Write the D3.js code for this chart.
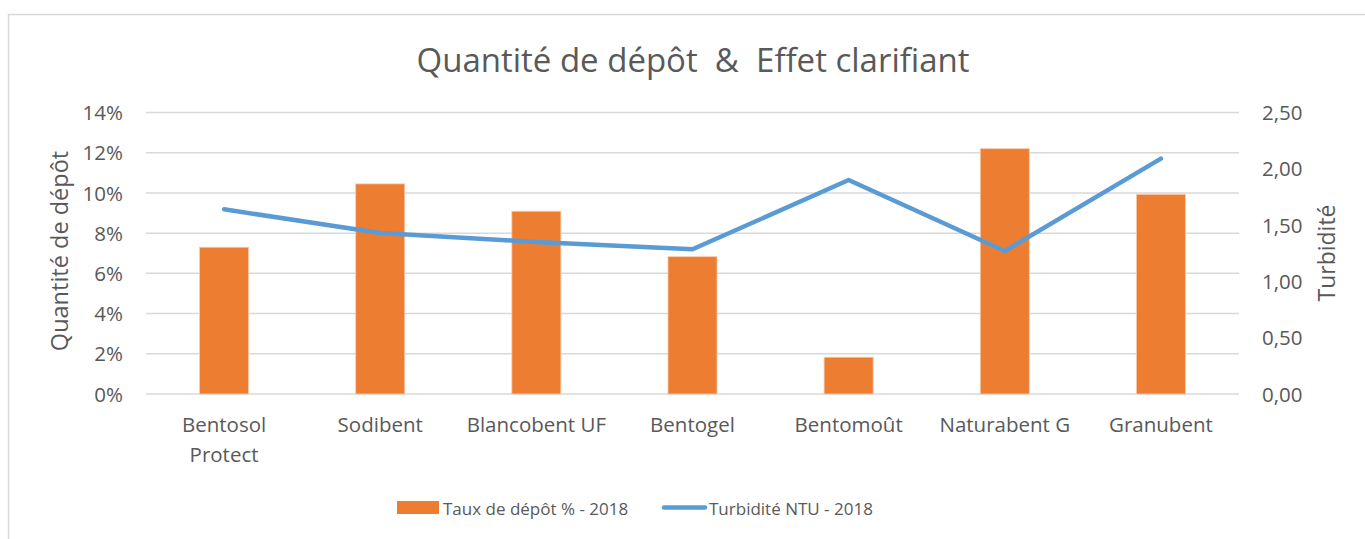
<!DOCTYPE html>
<html>
<head>
<meta charset="utf-8">
<script src="https://cdn.jsdelivr.net/npm/d3@7"></script>
<style>
  body { margin: 0; background: #fff; }
  svg text { font-family: "Open Sans", sans-serif; fill: #595959; }
</style>
</head>
<body>
<svg id="chart" width="1365" height="539"></svg>
<script>
// data
const categories = ['Bentosol Protect', 'Sodibent', 'Blancobent UF', 'Bentogel', 'Bentomoût', 'Naturabent G', 'Granubent'];
const depot = [0.073, 0.1045, 0.0909, 0.0683, 0.0183, 0.122, 0.0993];
const turbidite = [1.64, 1.43, 1.35, 1.285, 1.90, 1.27, 2.09];
const leftTicks = [0, 0.02, 0.04, 0.06, 0.08, 0.10, 0.12, 0.14];
const rightTicks = [0, 0.5, 1, 1.5, 2, 2.5];

const svg = d3.select('#chart');
const margin = { left: 146, right: 1239, top: 112.5, bottom: 394 };

// chart frame
svg.append('rect')
    .attr('x', 8.5).attr('y', 14.5)
    .attr('width', 1400).attr('height', 600)
    .attr('fill', 'none')
    .attr('stroke', '#d9d9d9')
    .attr('stroke-width', 1.5);

const x = d3.scaleBand()
    .domain(categories)
    .range([margin.left, margin.right])
    .paddingInner(0.686)
    .paddingOuter(0.343);

const yLeft = d3.scaleLinear().domain([0, 0.14]).range([margin.bottom, margin.top]);
const yRight = d3.scaleLinear().domain([0, 2.5]).range([margin.bottom, margin.top]);

// gridlines
svg.append('g')
    .selectAll('line')
    .data(leftTicks)
    .enter()
    .append('line')
    .attr('x1', margin.left).attr('x2', margin.right)
    .attr('y1', d => yLeft(d)).attr('y2', d => yLeft(d))
    .attr('stroke', '#d9d9d9')
    .attr('stroke-width', 1.5);

// left axis
const leftAxis = svg.append('g')
    .attr('transform', `translate(${margin.left},0)`)
    .call(d3.axisLeft(yLeft).tickValues(leftTicks).tickFormat(d3.format('.0%')).tickSize(0).tickPadding(23));
leftAxis.select('.domain').remove();
leftAxis.selectAll('text').style('font-size', '20.5px').attr('dy', '0.35em');

// right axis
const fr = d3.formatLocale({ decimal: ',', thousands: ' ', grouping: [3], currency: ['', '€'] }).format('.2f');
const rightAxis = svg.append('g')
    .attr('transform', `translate(${margin.right},0)`)
    .call(d3.axisRight(yRight).tickValues(rightTicks).tickFormat(fr).tickSize(0).tickPadding(23));
rightAxis.select('.domain').remove();
rightAxis.selectAll('text').style('font-size', '20.5px').attr('dy', '0.35em');

// bars
svg.append('g')
    .selectAll('rect')
    .data(categories)
    .enter()
    .append('rect')
    .attr('x', d => x(d))
    .attr('width', x.bandwidth())
    .attr('y', (d, i) => yLeft(depot[i]))
    .attr('height', (d, i) => yLeft(0) - yLeft(depot[i]))
    .attr('fill', '#ed7d31')
    .attr('stroke', '#f8cbad')
    .attr('stroke-width', 0.8);

// line
const line = d3.line()
    .x((d, i) => x(categories[i]) + x.bandwidth() / 2)
    .y(d => yRight(d));
svg.append('path')
    .datum(turbidite)
    .attr('d', line)
    .attr('fill', 'none')
    .attr('stroke', '#5b9bd5')
    .attr('stroke-width', 4.5)
    .attr('stroke-linecap', 'round')
    .attr('stroke-linejoin', 'round');

// category labels
const catLabels = svg.append('g')
    .selectAll('text')
    .data(categories)
    .enter()
    .append('text')
    .attr('text-anchor', 'middle')
    .style('font-size', '20.5px')
    .attr('x', d => x(d) + x.bandwidth() / 2)
    .attr('y', 432);
catLabels.each(function (d) {
    const t = d3.select(this);
    const words = d === 'Bentosol Protect' ? ['Bentosol', 'Protect'] : [d];
    words.forEach((w, k) => {
        t.append('tspan')
            .attr('x', x(d) + x.bandwidth() / 2)
            .attr('dy', k === 0 ? 0 : 30)
            .text(w);
    });
});

// title
svg.append('text')
    .attr('x', 693).attr('y', 72)
    .attr('text-anchor', 'middle')
    .style('font-size', '33px')
    .attr('xml:space', 'preserve')
    .text('Quantité de dépôt  &  Effet clarifiant');

// axis titles
svg.append('text')
    .attr('transform', 'translate(68,251) rotate(-90)')
    .attr('text-anchor', 'middle')
    .style('font-size', '23.5px')
    .text('Quantité de dépôt');
svg.append('text')
    .attr('transform', 'translate(1335,253) rotate(-90)')
    .attr('text-anchor', 'middle')
    .style('font-size', '23px')
    .text('Turbidité');

// legend
const legend = svg.append('g');
legend.append('rect')
    .attr('x', 397).attr('y', 501).attr('width', 42).attr('height', 13)
    .attr('fill', '#ed7d31');
legend.append('text')
    .attr('x', 443).attr('y', 515)
    .style('font-size', '17px')
    .text('Taux de dépôt % - 2018');
legend.append('line')
    .attr('x1', 664).attr('x2', 705).attr('y1', 507.5).attr('y2', 507.5)
    .attr('stroke', '#5b9bd5').attr('stroke-width', 4.5).attr('stroke-linecap', 'round');
legend.append('text')
    .attr('x', 709).attr('y', 515)
    .style('font-size', '17px')
    .text('Turbidité NTU - 2018');
</script>
</body>
</html>
